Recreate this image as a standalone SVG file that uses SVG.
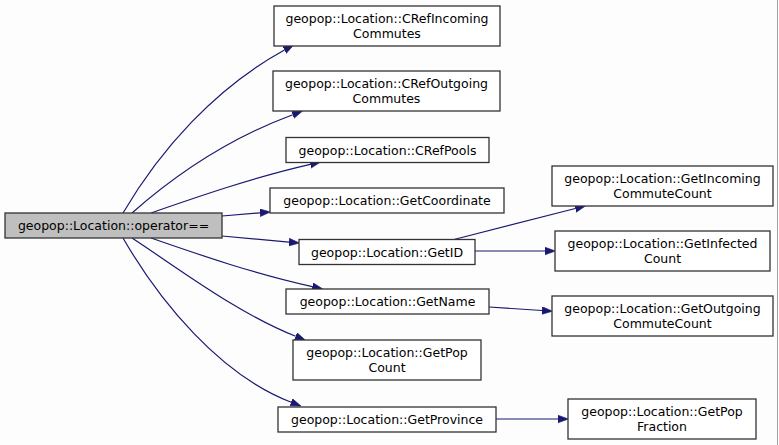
<svg xmlns="http://www.w3.org/2000/svg" width="779" height="445" viewBox="0 0 779 445">
<style>
.box{fill:#ffffff;stroke:#333333;stroke-width:1.3}
.cur{fill:#bfbfbf;stroke:#333333;stroke-width:1.3}
.t{font-family:"DejaVu Sans",sans-serif;font-size:12.5px;fill:#000000;text-anchor:middle}
.e{fill:none;stroke:#191970;stroke-width:1.2;marker-end:url(#ah)}
</style>
<defs>
<marker id="ah" markerUnits="userSpaceOnUse" markerWidth="12" markerHeight="10" refX="0" refY="4" orient="auto" viewBox="0 0 12 10">
<path d="M0,0.2 L10.5,4 L0,7.8 z" fill="#191970" stroke="#191970" stroke-width="0.6"/>
</marker>
</defs>
<rect x="0" y="0" width="779" height="445" fill="#fdfdfd"/>
<line x1="777.5" y1="0" x2="777.5" y2="445" stroke="#a0a0a0" stroke-width="1"/>
<g id="edges">
<path class="e" d="M123,213 C160,150 215,88 284.5,50"/>
<path class="e" d="M132,213 C175,175 230,138 292.7,114.7"/>
<path class="e" d="M151,213 C200,196 255,177 310.3,164.4"/>
<path class="e" d="M222,216 L260,212.8"/>
<path class="e" d="M222,236 L289,242.1"/>
<path class="e" d="M151,238 C200,255 255,274 312.3,286.6"/>
<path class="e" d="M132,238 C175,266 235,312 295.7,336.3"/>
<path class="e" d="M123,238 C160,302 220,375 291.2,402.3"/>
<path class="e" d="M452,240 L575.3,208.5"/>
<path class="e" d="M475,251 L545,251"/>
<path class="e" d="M489,307 L542,310.5"/>
<path class="e" d="M496,419 L558,419"/>
</g>
<g id="n_operator"><rect class="cur" x="5" y="213" width="217" height="25"/><text class="t" x="113.5" y="230">geopop::Location::operator==</text></g>
<g id="n_crefincoming"><rect class="box" x="274" y="6" width="226" height="40"/><text class="t" x="387" y="22.5">geopop::Location::CRefIncoming</text><text class="t" x="387" y="37.5">Commutes</text></g>
<g id="n_crefoutgoing"><rect class="box" x="273" y="71" width="227" height="40"/><text class="t" x="386.5" y="87.5">geopop::Location::CRefOutgoing</text><text class="t" x="386.5" y="102.5">Commutes</text></g>
<g id="n_crefpools"><rect class="box" x="286" y="137.5" width="203" height="25"/><text class="t" x="387.5" y="154.5">geopop::Location::CRefPools</text></g>
<g id="n_getcoordinate"><rect class="box" x="270" y="188" width="234" height="25"/><text class="t" x="387" y="205">geopop::Location::GetCoordinate</text></g>
<g id="n_getid"><rect class="box" x="299" y="239.5" width="176" height="25"/><text class="t" x="387" y="256.5">geopop::Location::GetID</text></g>
<g id="n_getname"><rect class="box" x="286" y="289" width="203" height="25"/><text class="t" x="387.5" y="306">geopop::Location::GetName</text></g>
<g id="n_getpopcount"><rect class="box" x="293" y="340" width="188" height="40"/><text class="t" x="387" y="356.5">geopop::Location::GetPop</text><text class="t" x="387" y="371.5">Count</text></g>
<g id="n_getprovince"><rect class="box" x="278" y="407" width="218" height="25"/><text class="t" x="387" y="424">geopop::Location::GetProvince</text></g>
<g id="n_getincoming"><rect class="box" x="552" y="166" width="221" height="40"/><text class="t" x="662.5" y="182.5">geopop::Location::GetIncoming</text><text class="t" x="662.5" y="197.5">CommuteCount</text></g>
<g id="n_getinfected"><rect class="box" x="555" y="231" width="215" height="40"/><text class="t" x="662.5" y="247.5">geopop::Location::GetInfected</text><text class="t" x="662.5" y="262.5">Count</text></g>
<g id="n_getoutgoing"><rect class="box" x="552" y="296" width="221" height="40"/><text class="t" x="662.5" y="312.5">geopop::Location::GetOutgoing</text><text class="t" x="662.5" y="327.5">CommuteCount</text></g>
<g id="n_getpopfraction"><rect class="box" x="568" y="399" width="188" height="40"/><text class="t" x="662" y="415.5">geopop::Location::GetPop</text><text class="t" x="662" y="430.5">Fraction</text></g>
</svg>
